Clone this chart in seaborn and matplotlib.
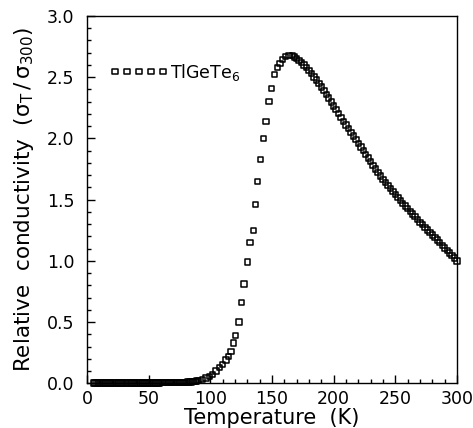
"""
Relative conductivity of TlGeTe6 vs temperature (sigma_T / sigma_300).
"""
import numpy as np
import matplotlib
matplotlib.use('Agg')
import matplotlib.pyplot as plt
from matplotlib.ticker import MultipleLocator, FormatStrFormatter
import seaborn as sns

sns.set_style("white")
plt.rcParams['font.family'] = ['DejaVu Sans']
plt.rcParams['mathtext.fontset'] = 'dejavusans'
plt.rcParams['text.color'] = 'black'
plt.rcParams['axes.labelcolor'] = 'black'
plt.rcParams['xtick.color'] = 'black'
plt.rcParams['ytick.color'] = 'black'

# Low-temperature plateau (near zero)
T_low = [5.0, 6.5, 8.0, 9.5, 11.0, 12.5, 14.0, 15.5, 17.0, 18.5, 20.0, 21.5,
         23.0, 24.5, 26.0, 27.5, 29.0, 30.5, 32.0, 33.5, 35.0, 36.5, 38.0,
         39.5, 41.0, 42.5, 44.0, 45.5, 47.0, 48.5, 50.0, 51.5, 53.0, 54.5,
         56.0, 57.5, 59.0, 60.5, 62.0, 63.5, 65.0, 66.5, 68.0, 69.5, 71.0,
         72.5, 74.0, 75.5, 77.0, 78.5, 80.0, 81.5, 83.0, 84.5, 86.0, 87.5,
         89.0, 90.5]
sig_low = [0.004, 0.004, 0.004, 0.004, 0.004, 0.004, 0.004, 0.004, 0.004,
           0.004, 0.004, 0.004, 0.004, 0.004, 0.004, 0.004, 0.004, 0.004,
           0.004, 0.004, 0.004, 0.004, 0.004, 0.004, 0.004, 0.004, 0.004,
           0.004, 0.004, 0.004, 0.004, 0.004, 0.004, 0.004, 0.004, 0.004,
           0.004, 0.005, 0.005, 0.005, 0.005, 0.005, 0.005, 0.006, 0.006,
           0.006, 0.007, 0.007, 0.008, 0.008, 0.009, 0.010, 0.011, 0.012,
           0.014, 0.016, 0.018, 0.022]

# Sharp rise up to the maximum
T_rise = [93.8, 96.5, 99.2, 101.9, 104.6, 107.3, 110.0, 112.7, 114.6, 116.8,
          118.6, 120.5, 123.2, 125.4, 127.3, 130.0, 132.2, 134.9, 136.7,
          138.3, 140.8, 143.0, 145.1, 147.6, 149.7, 151.9, 154.3, 156.5,
          158.6, 161.0, 163.8, 166.5]
sig_rise = [0.030, 0.044, 0.057, 0.074, 0.100, 0.130, 0.155, 0.190, 0.220,
            0.260, 0.330, 0.390, 0.500, 0.660, 0.810, 0.990, 1.150, 1.250,
            1.460, 1.650, 1.830, 2.000, 2.140, 2.300, 2.410, 2.520, 2.580,
            2.610, 2.645, 2.670, 2.675, 2.675]

# Decline toward room temperature
T_fall = [168, 170, 172, 174, 176, 178, 180, 182, 184, 186, 188, 190, 192,
          194, 196, 198, 200, 202, 204, 206, 208, 210, 212, 214, 216, 218,
          220, 222, 224, 226, 228, 230, 232, 234, 236, 238, 240, 242, 244,
          246, 248, 250, 252, 254, 256, 258, 260, 262, 264, 266, 268, 270,
          272, 274, 276, 278, 280, 282, 284, 286, 288, 290, 292, 294, 296,
          298, 300]
sig_fall = [2.665, 2.652, 2.637, 2.620, 2.600, 2.577, 2.553, 2.528, 2.502,
            2.476, 2.450, 2.421, 2.391, 2.360, 2.329, 2.297, 2.266, 2.234,
            2.202, 2.171, 2.140, 2.110, 2.080, 2.050, 2.020, 1.990, 1.960,
            1.930, 1.900, 1.870, 1.840, 1.810, 1.780, 1.751, 1.722, 1.694,
            1.667, 1.641, 1.615, 1.590, 1.565, 1.541, 1.517, 1.494, 1.471,
            1.448, 1.426, 1.404, 1.382, 1.360, 1.338, 1.316, 1.295, 1.274,
            1.253, 1.232, 1.211, 1.190, 1.169, 1.148, 1.127, 1.106, 1.085,
            1.064, 1.043, 1.022, 1.000]

temperature = np.array(T_low + T_rise + T_fall)
rel_sigma = np.array(sig_low + sig_rise + sig_fall)

fig = plt.figure(figsize=(4.73, 4.28), dpi=100)
ax = fig.add_axes([0.184, 0.1044, 0.7823, 0.8582])

sns.scatterplot(x=temperature, y=rel_sigma, ax=ax, marker='s', s=15,
                facecolor='none', edgecolor='black', linewidth=1.1,
                label='TlGeTe$_6$', clip_on=False, zorder=3)

ax.set_xlim(0, 300)
ax.set_ylim(0, 3.0)
ax.xaxis.set_major_locator(MultipleLocator(50))
ax.xaxis.set_minor_locator(MultipleLocator(10))
ax.yaxis.set_major_locator(MultipleLocator(0.5))
ax.yaxis.set_minor_locator(MultipleLocator(0.1))
ax.yaxis.set_major_formatter(FormatStrFormatter('%.1f'))

ax.tick_params(which='both', direction='in', bottom=True, left=True,
               top=False, right=False, color='black', width=1.0,
               labelsize=12.5)
ax.tick_params(which='major', length=5.5)
ax.tick_params(which='minor', length=3)
ax.tick_params(axis='x', pad=5)
ax.tick_params(axis='y', pad=9)

for sp in ax.spines.values():
    sp.set_color('black')
    sp.set_linewidth(1.0)

ax.set_xlabel('Temperature  (K)', fontsize=15, labelpad=0)
ax.set_ylabel(r'Relative  conductivity  ($\mathrm{\sigma_T\,/\,\sigma_{300}}$)',
              fontsize=15.5, labelpad=8)

ax.legend(loc='center left', bbox_to_anchor=(0.062, 0.847), frameon=False,
          scatterpoints=5, scatteryoffsets=[0.5], handlelength=3.36,
          handletextpad=0.1, borderpad=0, borderaxespad=0, fontsize=12.5)

plt.savefig('out.png', dpi=100)
plt.close()
